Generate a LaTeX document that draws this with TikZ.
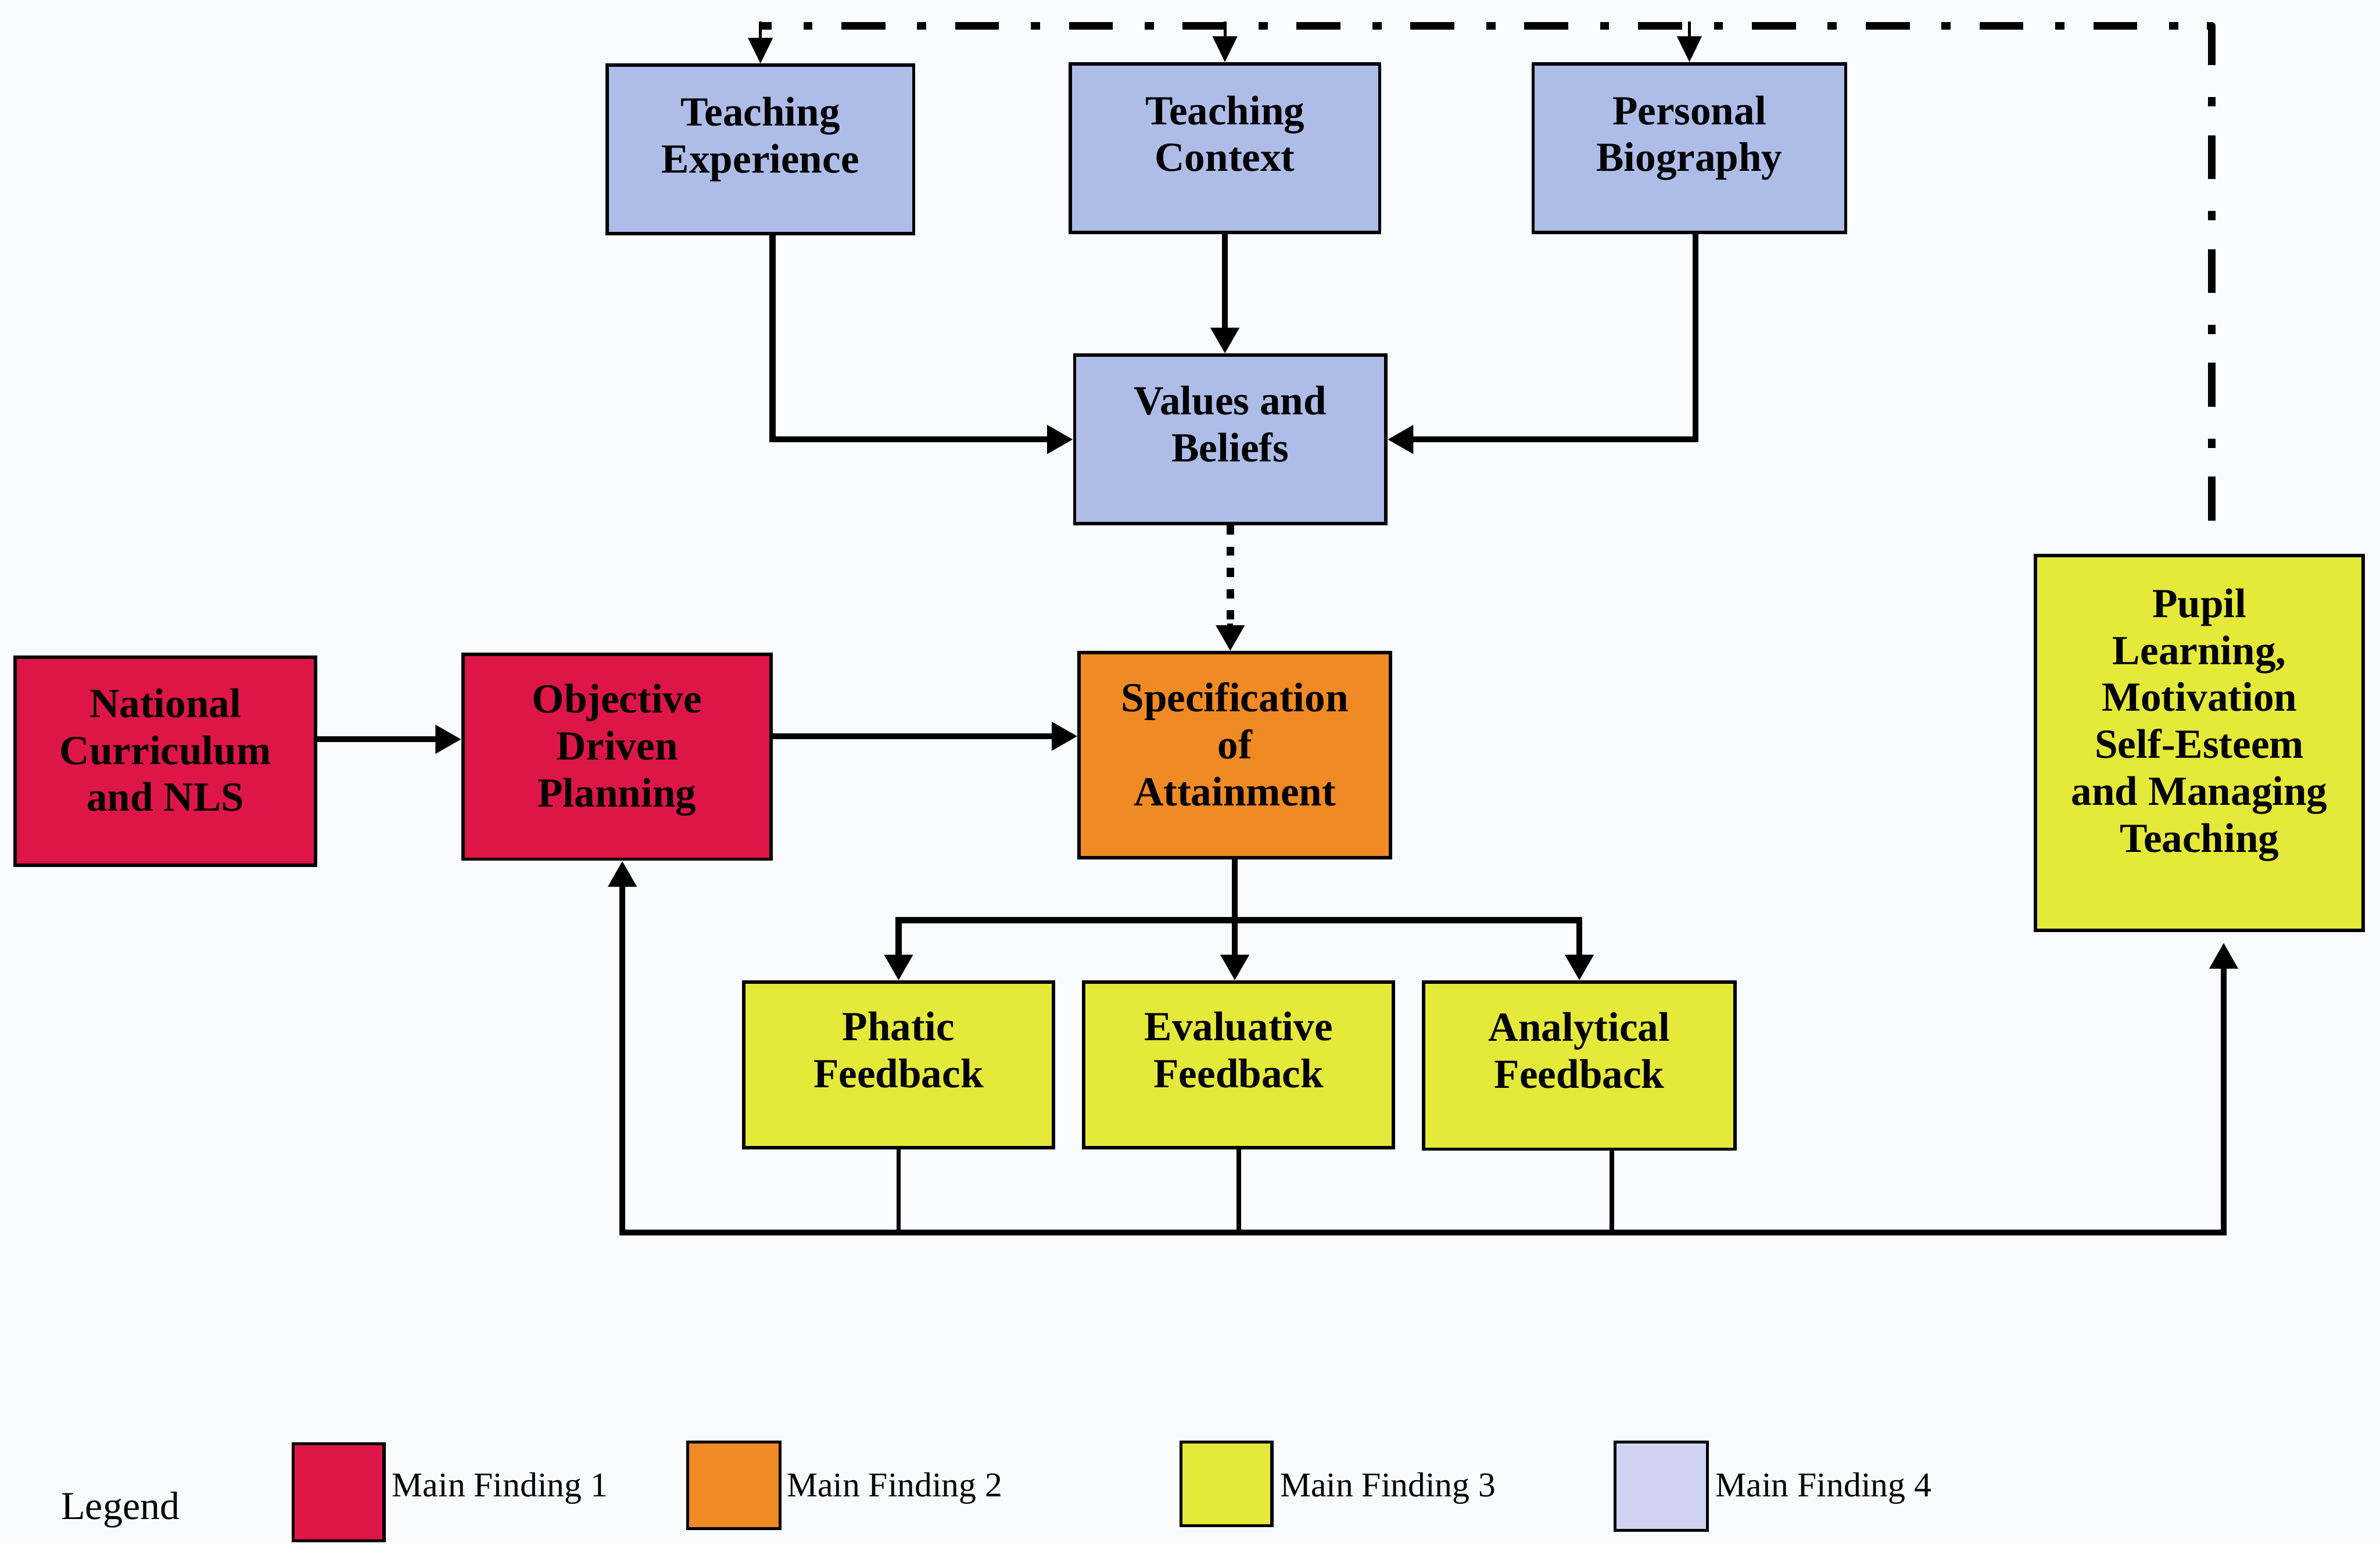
\documentclass[tikz,border=0pt]{standalone}
\usepackage{fontspec}
\setmainfont{Liberation Serif}
\usetikzlibrary{arrows.meta,calc}

\definecolor{paper}{RGB}{250,251,252}
\definecolor{findA}{RGB}{222,22,72}
\definecolor{findB}{RGB}{240,138,36}
\definecolor{findC}{RGB}{228,233,58}
\definecolor{findD}{RGB}{174,188,232}
\definecolor{findDkey}{RGB}{208,212,242}

\begin{document}
\begin{tikzpicture}[x=0.02cm, y=-0.02cm,
  % boxes
  findbox/.style={draw=black, line width=0.045cm, inner sep=0pt, align=center,
    font=\bfseries\fontsize{15.5}{17.6}\selectfont},
  pad/.style={execute at end node={\rule[-#1]{0pt}{#1}}},
  topbox/.style={findbox, fill=findD, minimum height=2.22cm, pad=0.38cm},
  redbox/.style={findbox, fill=findA, pad=0.30cm},
  fbbox/.style={findbox, fill=findC, minimum height=2.18cm, pad=0.40cm},
  keysq/.style={draw=black, line width=0.04cm, inner sep=0pt},
  keytext/.style={anchor=base west, inner sep=0pt, font=\fontsize{13}{15}\selectfont},
  % connectors
  tip/.style={-{Triangle[length=0.34cm,width=0.36cm]}},
  conn/.style={tip, line width=0.08cm},
  thinconn/.style={-{Triangle[length=0.34cm,width=0.32cm]}, line width=0.04cm},
  drop/.style={line width=0.06cm},
  busline/.style={line width=0.075cm,
    {Triangle[length=0.34cm,width=0.36cm]}-{Triangle[length=0.34cm,width=0.36cm]}},
  dashdot/.style={line width=0.1cm, line join=round,
    dash pattern=on 0.58cm off 0.38cm on 0.12cm off 0.42cm},
  dotline/.style={line width=0.1cm, dash pattern=on 0.12cm off 0.16cm},
]
% page
\fill[paper] (0,0) rectangle (1568,1017);
\useasboundingbox (0,0) rectangle (1568,1017);

% influences on values and beliefs
\node[topbox, minimum width=4.04cm] (TE) at (501,98.5) {Teaching\\Experience};
\node[topbox, minimum width=4.08cm] (TC) at (807,97.5) {Teaching\\Context};
\node[topbox, minimum width=4.12cm] (PB) at (1113,97.5) {Personal\\Biography};
\node[topbox, minimum width=4.10cm, pad=0.41cm] (VB) at (810.5,289.5) {Values and\\Beliefs};

% planning chain
\node[redbox, minimum width=3.96cm, minimum height=2.74cm] (NC) at (109,501.5) {National\\Curriculum\\and NLS};
\node[redbox, minimum width=4.06cm, minimum height=2.70cm] (ODP) at (406.5,498.5) {Objective\\Driven\\Planning};
\node[findbox, fill=findB, minimum width=4.10cm, minimum height=2.70cm, pad=0.29cm] (SA) at (813.5,497.5) {Specification\\of\\Attainment};
\node[findbox, fill=findC, minimum width=4.32cm, minimum height=4.94cm, pad=0.60cm] (PL) at (1449,489.5) {Pupil\\Learning,\\Motivation\\Self-Esteem\\and Managing\\Teaching};

% feedback types
\node[fbbox, minimum width=4.08cm] (PF) at (592,701.5) {Phatic\\Feedback};
\node[fbbox, minimum width=4.08cm] (EF) at (816,701.5) {Evaluative\\Feedback};
\node[fbbox, minimum width=4.10cm, minimum height=2.20cm] (AF) at (1040.5,702) {Analytical\\Feedback};

% legend
\node[anchor=base west, inner sep=0pt, font=\fontsize{14.8}{17}\selectfont] (leg) at (40,1001) {Legend};
\node[keysq, fill=findA, minimum width=1.20cm, minimum height=1.28cm] (k1) at (223,983) {};
\node[keytext] (t1) at (258,986) {Main Finding 1};
\node[keysq, fill=findB, minimum width=1.22cm, minimum height=1.14cm] (k2) at (483.5,978.5) {};
\node[keytext] (t2) at (518,986) {Main Finding 2};
\node[keysq, fill=findC, minimum width=1.20cm, minimum height=1.10cm] (k3) at (808,977.5) {};
\node[keytext] (t3) at (843,986) {Main Finding 3};
\node[keysq, fill=findDkey, minimum width=1.22cm, minimum height=1.16cm] (k4) at (1094.5,979) {};
\node[keytext] (t4) at (1130,986) {Main Finding 4};

% into values and beliefs
\coordinate (tedrop) at ($(TE.south)+(8,0)$);
\coordinate (pbdrop) at ($(PB.south)+(4,0)$);
\draw[conn] (tedrop) |- (VB.west);
\draw[conn] (TC.south) -- (TC.south |- VB.north);
\draw[conn] (pbdrop) |- (VB.east);
\draw[dotline] (VB.south) -- ($(VB.south |- SA.north)+(0,-17)$);
\draw[conn] ($(VB.south |- SA.north)+(0,-18)$) -- (VB.south |- SA.north);

% planning arrows
\coordinate (ncy) at (0,487);
\coordinate (odpy) at (0,485);
\draw[conn] (NC.east |- ncy) -- (ODP.west |- ncy);
\draw[conn] (ODP.east |- odpy) -- (SA.west |- odpy);

% attainment to feedback
\coordinate (split) at ($(SA.south)+(0,40)$);
\draw[conn] (SA.south) -- (SA.south |- EF.north);
\draw[conn] (split) -| (PF.north);
\draw[conn] (split) -| (AF.north);

% feedback return bus
\coordinate (loopL) at (410,812);
\coordinate (loopR) at (1465,812);
\coordinate (afdrop) at ($(AF.south)+(21.5,0)$);
\draw[drop] (PF.south) -- (PF.south |- loopL);
\draw[drop] (EF.south) -- (EF.south |- loopL);
\draw[drop] (afdrop) -- (afdrop |- loopL);
\draw[busline, shorten >=0.14cm] (ODP.south -| loopL) -- (loopL) -- (loopR) -- (loopR |- PL.south);

% outcome feeding back to the top
\coordinate (fbStart) at (1457,343);
\coordinate (fbCorner) at (1457,17);
\draw[dashdot] (fbStart) -- (fbCorner) -- (fbCorner -| TE.north);
\draw[thinconn] ($(fbCorner -| TE.north)+(0,-3)$) -- (TE.north);
\draw[thinconn] ($(fbCorner -| TC.north)+(0,-3)$) -- (TC.north);
\draw[thinconn] ($(fbCorner -| PB.north)+(0,-3)$) -- (PB.north);
\end{tikzpicture}
\end{document}
